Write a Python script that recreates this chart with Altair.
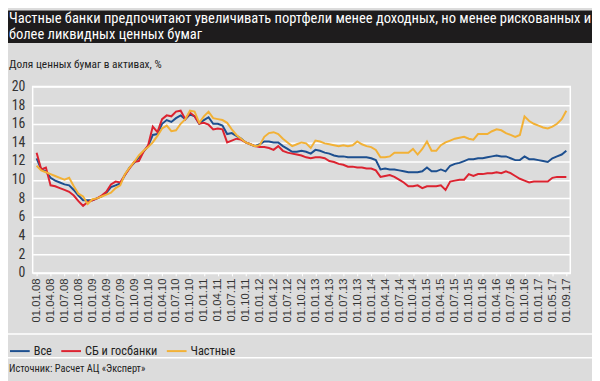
import altair as alt
import pandas as pd

# ---- data ----
dates = [f"01.{m:02d}.{y:02d}" for y in range(8, 17) for m in range(1, 13)]
dates += ["01.01.17", "01.02.17", "01.03.17", "01.05.17", "01.06.17", "01.07.17", "01.09.17"]
tick_labels = dates[::3]

series_names = ["Все", "СБ и госбанки", "Частные"]

vse = [12.3, 11.1, 10.9, 10.2, 9.9, 9.7, 9.5, 9.4, 8.9, 8.3,
       7.8, 7.8, 7.8, 8.0, 8.2, 8.6, 9.2, 9.4, 9.6, 10.5,
       11.3, 11.8, 12.4, 13.0, 13.6, 14.8, 14.9, 16.0, 16.4, 16.2,
       16.6, 16.9, 16.5, 17.0, 16.8, 16.0, 16.4, 16.7, 16.0, 16.0,
       15.8, 14.9, 15.0, 14.7, 14.4, 14.0, 13.8, 13.6, 13.8, 14.1,
       14.1, 14.0, 14.0, 13.6, 13.3, 13.0, 13.0, 13.1, 13.0, 12.8,
       13.2, 13.1, 12.9, 12.8, 12.6, 12.5, 12.5, 12.4, 12.4, 12.4,
       12.4, 12.4, 12.3, 12.1, 11.1, 11.2, 11.1, 11.1, 11.0, 10.9,
       10.8, 10.8, 10.8, 10.9, 11.3, 10.9, 10.9, 11.1, 10.9, 11.5,
       11.7, 11.8, 12.0, 12.2, 12.2, 12.3, 12.3, 12.4, 12.5, 12.6,
       12.5, 12.5, 12.3, 12.1, 12.1, 12.5, 12.2, 12.2, 12.1, 12.0,
       11.9, 12.3, 12.5, 12.7, 13.1]

sb_gos = [12.9, 11.1, 11.3, 9.4, 9.3, 9.1, 8.9, 8.7, 8.3, 7.7,
          7.2, 7.6, 7.8, 8.0, 8.3, 8.7, 9.5, 9.8, 9.7, 10.5,
          11.2, 11.9, 12.0, 13.0, 13.7, 15.7, 15.1, 16.5, 16.9, 16.8,
          17.3, 17.4, 16.5, 17.2, 16.8, 16.0, 16.1, 15.9, 15.4, 15.5,
          15.4, 14.0, 14.2, 14.4, 14.3, 14.0, 13.8, 13.6, 13.5, 13.5,
          13.4, 13.2, 13.6, 13.1, 12.9, 12.8, 12.7, 12.6, 12.4, 12.3,
          12.4, 12.4, 12.3, 12.0, 11.9, 11.7, 11.6, 11.4, 11.4, 11.3,
          11.3, 11.2, 11.2, 11.0, 10.3, 10.4, 10.5, 10.3, 10.0, 9.7,
          9.3, 9.3, 9.4, 9.1, 9.3, 9.3, 9.3, 9.4, 8.9, 9.8,
          9.9, 10.0, 10.0, 10.6, 10.4, 10.6, 10.6, 10.7, 10.7, 10.8,
          10.7, 10.9, 10.7, 10.4, 10.1, 9.9, 9.7, 9.8, 9.8, 9.8,
          9.8, 10.2, 10.3, 10.3, 10.3]

chastnye = [11.5, 11.0, 10.8, 10.6, 10.4, 10.2, 10.0, 10.2, 9.3, 8.5,
            8.2, 7.4, 7.9, 8.0, 8.2, 8.4, 8.6, 9.1, 9.4, 10.6,
            11.3, 11.9, 12.6, 13.1, 13.5, 14.0, 14.7, 15.5, 15.8, 15.2,
            15.3, 16.0, 16.5, 17.4, 17.3, 16.1, 16.8, 17.3, 16.6, 16.5,
            16.4, 16.1, 15.4, 14.8, 14.4, 14.0, 13.8, 13.6, 13.7, 14.6,
            15.0, 15.1, 14.9, 14.4, 14.0, 13.6, 13.8, 14.0, 13.9, 13.4,
            14.2, 14.1, 13.9, 13.8, 13.7, 13.6, 13.7, 13.6, 13.7, 14.1,
            13.8, 13.6, 13.5, 13.2, 12.4, 12.4, 12.5, 12.9, 12.9, 12.9,
            12.9, 13.3, 12.7, 13.3, 14.1, 13.1, 13.1, 13.7, 14.0, 14.2,
            14.4, 14.5, 14.6, 14.4, 14.3, 14.9, 14.9, 14.9, 15.2, 15.4,
            15.3, 15.0, 14.8, 14.6, 14.8, 16.8, 16.3, 16.0, 15.8, 15.6,
            15.5, 15.7, 16.0, 16.5, 17.4]

colors = ["#1d4f8f", "#dc2330", "#f2b136"]

title_lines = ["Частные банки предпочитают увеличивать портфели менее доходных, но менее рискованных и",
               "более ликвидных ценных бумаг"]
subtitle = "Доля ценных бумаг в активах, %"
source = "Источник: Расчет АЦ «Эксперт»"

rows = []
for name, vals in zip(series_names, [vse, sb_gos, chastnye]):
    for i, (d, v) in enumerate(zip(dates, vals)):
        rows.append({"date": d, "idx": i, "series": name, "value": v})
df = pd.DataFrame(rows)

NARROW = "Noto Sans ExtraCondensed, Roboto Condensed, DejaVu Sans Condensed, sans-serif"
REG = "Liberation Sans, Arial, sans-serif"

W, H = 545, 189

band = alt.Chart(alt.Data(values=[{}])).mark_rect(color="#1e1c1d").encode(
    x=alt.value(-25), x2=alt.value(567), y=alt.value(-77), y2=alt.value(-44))

title_df = alt.Data(values=[{"t": title_lines[0], "y": -64}, {"t": title_lines[1], "y": -48}])
title = alt.Chart(title_df).mark_text(
    align="left", baseline="alphabetic", font=NARROW, fontSize=14.7, color="#ffffff"
).encode(text="t:N", x=alt.value(-24), y=alt.Y("y:Q", scale=None))

sub = alt.Chart(alt.Data(values=[{"t": subtitle}])).mark_text(
    align="left", baseline="alphabetic", font=NARROW, fontSize=11.5, color="#222222"
).encode(text="t:N", x=alt.value(-24), y=alt.value(-19))

src = alt.Chart(alt.Data(values=[{"t": source}])).mark_text(
    align="left", baseline="alphabetic", font=NARROW, fontSize=10.5, color="#222222"
).encode(text="t:N", x=alt.value(-24), y=alt.value(289))

seps = alt.Chart(alt.Data(values=[{"y": 251}, {"y": 275}])).mark_rule(
    color="white", strokeWidth=1.5
).encode(x=alt.value(-25), x2=alt.value(567), y=alt.Y("y:Q", scale=None))

lines = alt.Chart(df).mark_line(strokeWidth=2).encode(
    x=alt.X("date:O", sort=dates, title=None,
            scale=alt.Scale(padding=0.85),
            axis=alt.Axis(values=tick_labels, labelAngle=-90, labelFont=REG,
                          labelFontSize=11.5, labelColor="#333333", labelPadding=2,
                          tickColor="white", tickSize=3, domain=False, grid=False)),
    y=alt.Y("value:Q", title=None,
            scale=alt.Scale(domain=[0, 20], nice=False),
            axis=alt.Axis(values=list(range(0, 21, 2)), labelFont=NARROW, labelFontSize=14,
                          labelColor="#333333", labelPadding=8, ticks=False, domain=False,
                          gridColor="white", gridWidth=1.5)),
    color=alt.Color("series:N", sort=series_names,
                    scale=alt.Scale(domain=series_names, range=colors),
                    legend=alt.Legend(title=None, orient="none", direction="horizontal",
                                      legendX=-24, legendY=257, symbolType="stroke",
                                      symbolSize=400, symbolStrokeWidth=2, labelOffset=3,
                                      columnPadding=5, padding=0, labelFont=NARROW,
                                      labelFontSize=12.5, labelColor="#222222")),
    order=alt.Order("idx:Q"),
)

chart = alt.layer(band, title, sub, seps, src, lines).properties(
    width=W, height=H,
    autosize=alt.AutoSizeParams(type="none"),
    padding={"left": 25, "top": 77, "right": 22, "bottom": 107},
    background="#dcdcdc",
).configure_view(stroke="white", strokeWidth=1.5)

chart.save("out.html", embed_options={"renderer": "svg", "actions": False})
